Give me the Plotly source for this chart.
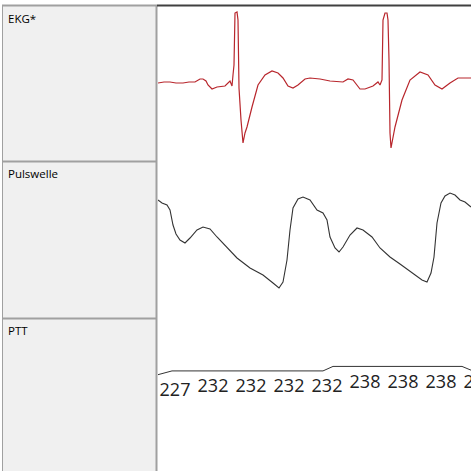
import plotly.graph_objects as go

# ---------------- data ----------------
panel_labels = ["EKG*", "Pulswelle", "PTT"]

# EKG (arbitrary units), time in samples
ekg_t = [0, 6, 12, 18, 25, 31, 37, 42, 45, 48, 50, 54, 59, 67, 72, 74, 75, 76, 77, 78, 79, 80, 81, 83, 85, 87, 89,
         94, 100, 107, 114, 120, 125, 130, 135, 140, 147, 152, 162, 172, 185, 190, 195, 202, 207, 215, 220, 222,
         224, 225, 227, 229, 230, 231, 232, 233, 235, 237, 244, 252, 262, 270, 277, 284, 292, 300, 307, 313]
ekg_v = [0, 1, 1, 0, 0, 1, 1, 4, 4, 2, -2, -6, -4, -3, 2, -3, 8, 18, 70, 71, 71, 63, -5, -37, -60, -50, -44,
         -24, -2, 8, 12, 10, 5, -3, -5, -2, 4, 5, 4, 2, 1, 4, 3, -6, -6, -3, 1, -2,
         3, 63, 70, 70, 63, 23, -50, -65, -54, -44, -17, 3, 11, 8, -2, -6, 0, 5, 5, 5]

# Pulse wave (arbitrary units)
pw_t = [0, 4, 9, 12, 15, 18, 22, 27, 32, 39, 45, 52, 59, 69, 79, 92, 105, 115, 121, 125, 129, 132, 135, 140, 145,
        152, 159, 165, 169, 172, 177, 181, 185, 192, 199, 205, 214, 222, 232, 242, 255, 264, 269, 273, 276, 279,
        283, 287, 292, 297, 302, 307, 313]
pw_v = [118, 115, 113, 108, 93, 84, 78, 75, 80, 88, 91, 89, 81, 70, 60, 50, 43, 35, 30, 36, 58, 88, 110, 119, 121,
        118, 108, 105, 98, 81, 70, 66, 71, 83, 90, 88, 81, 70, 61, 54, 45, 38, 36, 45, 61, 95,
        115, 122, 125, 123, 118, 116, 111]

# PTT (ms)
ptt_t = [0, 14, 165, 175, 304, 313]
ptt_v = [227, 232, 232, 238, 238, 233]
ptt_label_t = [17, 55, 93, 131, 169, 207, 245, 283, 321]
ptt_label_v = [227, 232, 232, 232, 232, 238, 238, 238, 238]

# ---------------- figure ----------------
W = H = 471
def py(p):
    return 1 - p / H
def px(p):
    return p / W

fig = go.Figure()
fig.add_trace(go.Scatter(x=ekg_t, y=ekg_v, mode="lines", line=dict(color="#b8262c", width=1.2),
                         xaxis="x", yaxis="y", hoverinfo="skip"))
fig.add_trace(go.Scatter(x=pw_t, y=pw_v, mode="lines", line=dict(color="#333333", width=1.1),
                         xaxis="x2", yaxis="y2", hoverinfo="skip"))
fig.add_trace(go.Scatter(x=ptt_t, y=ptt_v, mode="lines", line=dict(color="#333333", width=1),
                         xaxis="x3", yaxis="y3", hoverinfo="skip"))
# labels on an overlaying axis whose range is shifted, so they sit a little below the line
fig.add_trace(go.Scatter(x=ptt_label_t, y=ptt_label_v, mode="text",
                         text=[str(v) for v in ptt_label_v], textposition="bottom center",
                         textfont=dict(family="Open Sans", size=18, color="#222222"),
                         cliponaxis=True, xaxis="x3", yaxis="y4", hoverinfo="skip"))

xdom = [px(158), 1]
ax = dict(visible=False, range=[0, 313], fixedrange=True)
fig.update_layout(
    width=W, height=H, margin=dict(l=0, r=0, t=0, b=0),
    paper_bgcolor="white", plot_bgcolor="white", showlegend=False,
    xaxis=dict(domain=xdom, anchor="y", **ax),
    xaxis2=dict(domain=xdom, anchor="y2", **ax),
    xaxis3=dict(domain=xdom, anchor="y3", **ax),
    yaxis=dict(domain=[py(161), py(5)], range=[-78, 78], visible=False, anchor="x"),
    yaxis2=dict(domain=[py(318), py(162)], range=[0, 156], visible=False, anchor="x2"),
    yaxis3=dict(domain=[0, py(319)], range=[99, 301], visible=False, anchor="x3"),
    yaxis4=dict(overlaying="y3", range=[109.5, 311.5], visible=False, anchor="x3"),
)

shapes = [
    dict(type="rect", xref="paper", yref="paper", x0=px(3), x1=px(156), y0=0, y1=py(5),
         fillcolor="#f0f0f0", line=dict(width=0), layer="below"),
    dict(type="line", xref="paper", yref="paper", x0=px(2.5), x1=px(2.5), y0=0, y1=py(5),
         line=dict(color="#a0a0a0", width=1)),
    dict(type="line", xref="paper", yref="paper", x0=px(156.5), x1=px(156.5), y0=0, y1=py(5),
         line=dict(color="#a0a0a0", width=2)),
    dict(type="line", xref="paper", yref="paper", x0=px(2), x1=px(157), y0=py(5.5), y1=py(5.5),
         line=dict(color="#a0a0a0", width=2)),
    dict(type="line", xref="paper", yref="paper", x0=px(157), x1=1, y0=py(5.5), y1=py(5.5),
         line=dict(color="#404040", width=2)),
    dict(type="line", xref="paper", yref="paper", x0=px(3), x1=px(156), y0=py(161.5), y1=py(161.5),
         line=dict(color="#a0a0a0", width=2)),
    dict(type="line", xref="paper", yref="paper", x0=px(3), x1=px(156), y0=py(318.5), y1=py(318.5),
         line=dict(color="#a0a0a0", width=2)),
]
fig.update_layout(shapes=shapes)

for lab, mid in zip(panel_labels, [19, 174, 330]):
    fig.add_annotation(text=lab, xref="paper", yref="paper", x=px(6), y=py(mid),
                       xanchor="left", yanchor="middle", showarrow=False,
                       font=dict(family="Open Sans", size=11.5, color="#000000"))

fig.write_html("out.html", config={"displayModeBar": False},
               post_script="document.body.style.margin='0';document.body.style.overflow='hidden';")
